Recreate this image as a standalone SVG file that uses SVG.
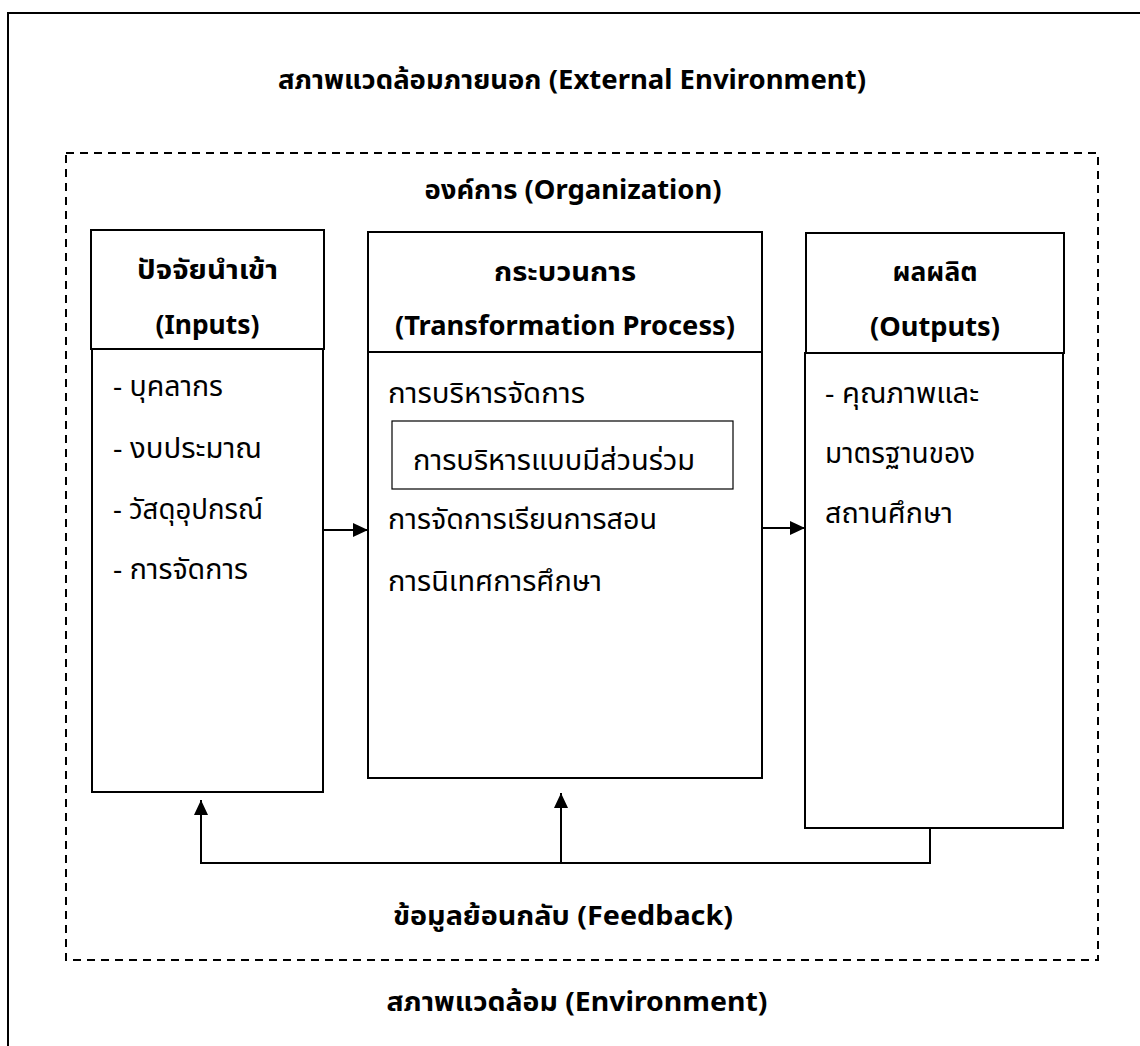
<svg xmlns="http://www.w3.org/2000/svg" width="1140" height="1046" viewBox="0 0 1140 1046">
<style>
  text { font-family: "Noto Sans", "Noto Sans Thai", "Noto Sans Thai UI", "DejaVu Sans", sans-serif; font-size: 28px; fill: #000; }
  .b { font-weight: bold; font-size: 27px; }
  .m { text-anchor: middle; }
  .box { fill: none; stroke: #000; stroke-width: 2; }
  .line { fill: none; stroke: #000; stroke-width: 2; }
</style>
<defs>
  <marker id="arr" viewBox="0 0 15 14" refX="15" refY="7" markerWidth="15" markerHeight="14" markerUnits="userSpaceOnUse" orient="auto">
    <path d="M0,0 L15,7 L0,14 Z" fill="#000"/>
  </marker>
</defs>
<rect x="0" y="0" width="1140" height="1046" fill="#fff"/>
<g id="environment">
  <rect x="8" y="13" width="1150" height="1050" fill="none" stroke="#000" stroke-width="2"/>
  <text class="b m" x="572" y="89" textLength="588" lengthAdjust="spacingAndGlyphs">สภาพแวดล้อมภายนอก (External Environment)</text>
  <text class="b m" x="577" y="1011" textLength="381" lengthAdjust="spacingAndGlyphs">สภาพแวดล้อม (Environment)</text>
</g>
<g id="organization">
  <rect x="66" y="153" width="1032" height="807" fill="none" stroke="#000" stroke-width="2" stroke-dasharray="8,6"/>
  <text class="b m" x="573" y="199" textLength="297" lengthAdjust="spacingAndGlyphs">องค์การ (Organization)</text>
  <text class="b m" x="563" y="925" textLength="340" lengthAdjust="spacingAndGlyphs">ข้อมูลย้อนกลับ (Feedback)</text>
</g>
<g id="inputs">
  <rect class="box" x="91" y="230" width="233" height="119"/>
  <rect class="box" x="92" y="349" width="231" height="443"/>
  <text class="b m" x="207.5" y="279" textLength="141" lengthAdjust="spacingAndGlyphs">ปัจจัยนำเข้า</text>
  <text class="b m" x="207.5" y="334" textLength="104" lengthAdjust="spacingAndGlyphs">(Inputs)</text>
  <text x="113" y="396" textLength="110" lengthAdjust="spacingAndGlyphs">- บุคลากร</text>
  <text x="113" y="458" textLength="149" lengthAdjust="spacingAndGlyphs">- งบประมาณ</text>
  <text x="113" y="519" textLength="150" lengthAdjust="spacingAndGlyphs">- วัสดุอุปกรณ์</text>
  <text x="113" y="579" textLength="135" lengthAdjust="spacingAndGlyphs">- การจัดการ</text>
</g>
<g id="process">
  <rect class="box" x="368" y="232" width="394" height="120"/>
  <rect class="box" x="368" y="352" width="394" height="426"/>
  <text class="b m" x="565" y="281" textLength="142" lengthAdjust="spacingAndGlyphs">กระบวนการ</text>
  <text class="b m" x="565" y="335" textLength="340" lengthAdjust="spacingAndGlyphs">(Transformation Process)</text>
  <text x="388" y="403" textLength="197" lengthAdjust="spacingAndGlyphs">การบริหารจัดการ</text>
  <text x="388" y="529" textLength="269" lengthAdjust="spacingAndGlyphs">การจัดการเรียนการสอน</text>
  <text x="388" y="591" textLength="214" lengthAdjust="spacingAndGlyphs">การนิเทศการศึกษา</text>
</g>
<g id="participative">
  <rect x="392" y="421" width="341" height="68" fill="none" stroke="#000" stroke-width="1.2"/>
  <text x="413" y="470" textLength="282" lengthAdjust="spacingAndGlyphs">การบริหารแบบมีส่วนร่วม</text>
</g>
<g id="outputs">
  <rect class="box" x="806" y="233" width="258" height="120"/>
  <rect class="box" x="805" y="353" width="258" height="475"/>
  <text class="b m" x="935" y="281" textLength="85" lengthAdjust="spacingAndGlyphs">ผลผลิต</text>
  <text class="b m" x="935" y="336" textLength="130" lengthAdjust="spacingAndGlyphs">(Outputs)</text>
  <text x="825" y="403" textLength="154" lengthAdjust="spacingAndGlyphs">- คุณภาพและ</text>
  <text x="825" y="463" textLength="150" lengthAdjust="spacingAndGlyphs">มาตรฐานของ</text>
  <text x="825" y="523" textLength="128" lengthAdjust="spacingAndGlyphs">สถานศึกษา</text>
</g>
<g id="connectors">
  <line class="line" x1="324" y1="530" x2="368" y2="530" marker-end="url(#arr)"/>
  <line class="line" x1="762" y1="528" x2="805" y2="528" marker-end="url(#arr)"/>
  <polyline class="line" points="930,828 930,863 201,863"/>
  <line class="line" x1="201" y1="864" x2="201" y2="800" marker-end="url(#arr)"/>
  <line class="line" x1="561" y1="864" x2="561" y2="793" marker-end="url(#arr)"/>
</g>
</svg>
